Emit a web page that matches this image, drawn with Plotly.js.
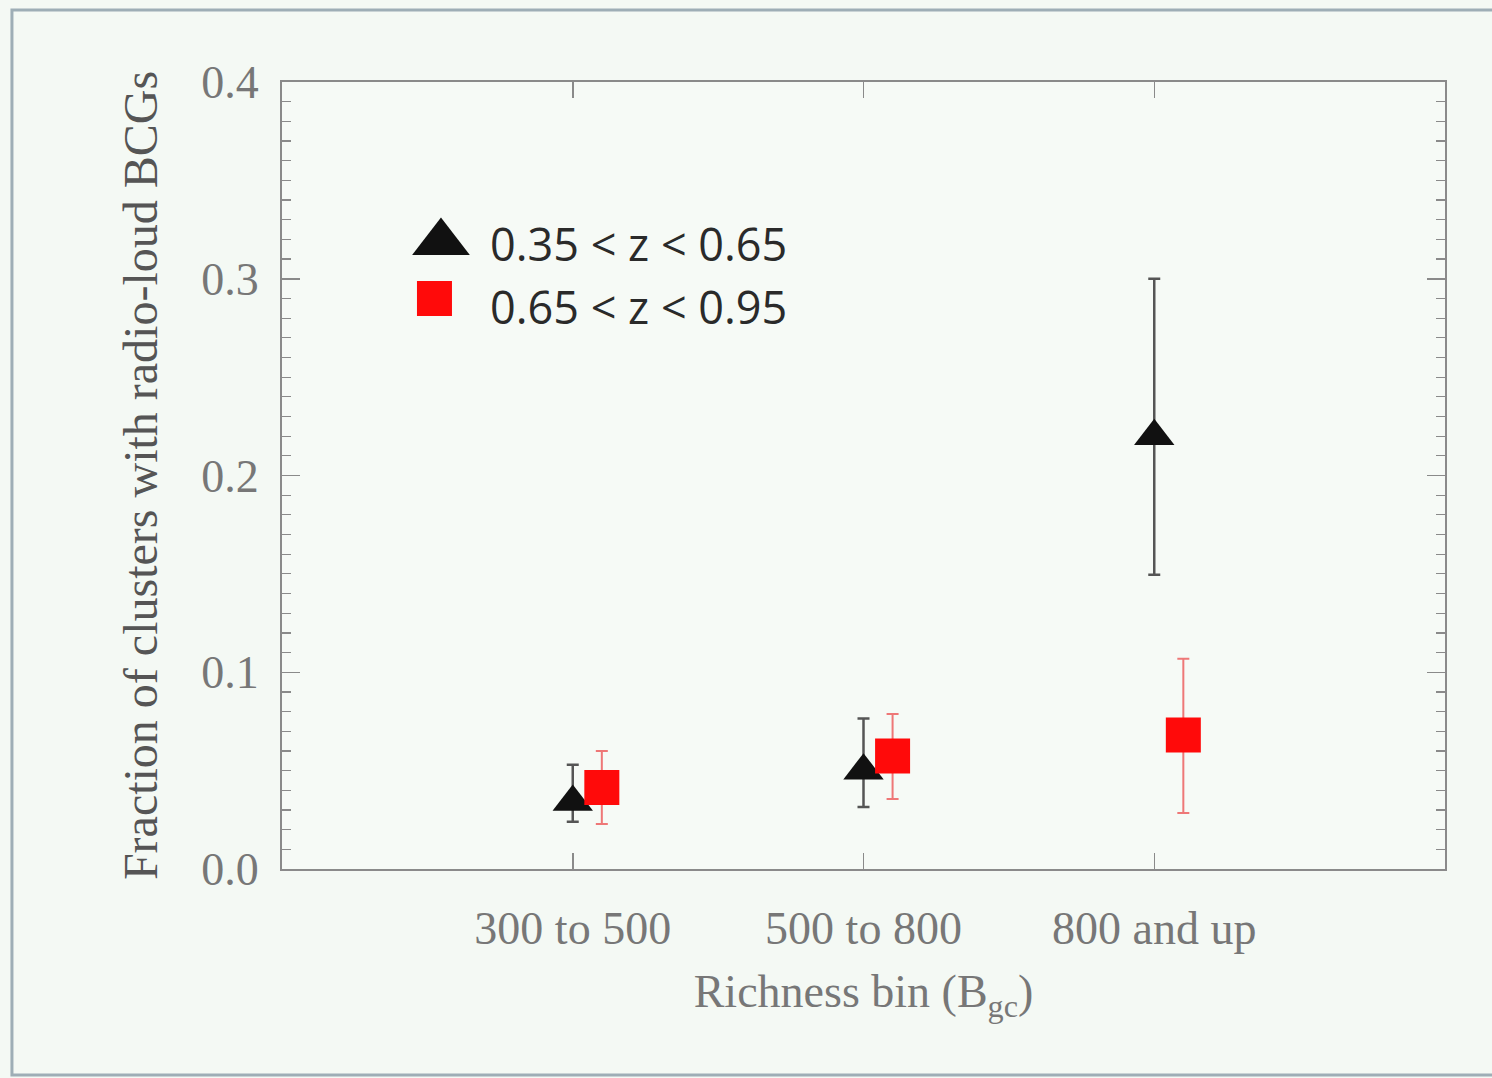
<!DOCTYPE html>
<html>
<head>
<meta charset="utf-8">
<script src="https://cdn.plot.ly/plotly-3.0.1.min.js"></script>
<style>
  html, body { margin: 0; padding: 0; background: #f4f9f4; }
  #chart { width: 1492px; height: 1078px; }
</style>
</head>
<body>
<div id="chart"></div>
<script>
// ---- data ----
const categories = ['300 to 500', '500 to 800', '800 and up'];
const seriesNames = ['0.35 < z < 0.65', '0.65 < z < 0.95'];

const lowZValue = [0.034, 0.050, 0.220];
const lowZUpper = [0.053, 0.0765, 0.300];
const lowZLower = [0.024, 0.0315, 0.1495];

const highZValue = [0.0414, 0.0574, 0.0681];
const highZUpper = [0.060, 0.0788, 0.1068];
const highZLower = [0.0229, 0.0356, 0.0285];

const yTickVals = [0.0, 0.1, 0.2, 0.3, 0.4];

// ---- build traces ----
const catPos = categories.map((c, i) => i + 1);
const redShift = 0.1;

function plus(v, up) { return v.map((d, i) => up[i] - d); }
function minus(v, lo) { return v.map((d, i) => d - lo[i]); }

const serif = 'Liberation Serif, Times New Roman, serif';
const sans = 'Open Sans, Noto Sans, sans-serif';

const traceLow = {
  type: 'scatter', mode: 'markers', name: seriesNames[0], showlegend: false,
  x: catPos, y: lowZValue,
  marker: { symbol: 'triangle-up', size: 35, color: '#111111' },
  error_y: { type: 'data', symmetric: false,
    array: plus(lowZValue, lowZUpper), arrayminus: minus(lowZValue, lowZLower),
    color: '#555555', thickness: 2.5, width: 6 }
};
const traceHigh = {
  type: 'scatter', mode: 'markers', name: seriesNames[1], showlegend: false,
  x: catPos.map(p => p + redShift), y: highZValue,
  marker: { symbol: 'square', size: 35, color: '#ff0a0a' },
  error_y: { type: 'data', symmetric: false,
    array: plus(highZValue, highZUpper), arrayminus: minus(highZValue, highZLower),
    color: '#ee7777', thickness: 2, width: 6 }
};

// legend keys drawn on an overlay axis in plot-fraction units
const legendKeyLow = {
  type: 'scatter', mode: 'markers', showlegend: false, hoverinfo: 'skip',
  xaxis: 'x2', yaxis: 'y2', x: [0.1367], y: [0.796],
  marker: { symbol: 'triangle-up', size: 50, color: '#111111' }
};
const legendKeyHigh = {
  type: 'scatter', mode: 'markers', showlegend: false, hoverinfo: 'skip',
  xaxis: 'x2', yaxis: 'y2', x: [0.1311], y: [0.725],
  marker: { symbol: 'square', size: 35, color: '#ff0a0a' }
};

const axisGray = '#8a8a8a';
const layout = {
  width: 1492, height: 1078,
  paper_bgcolor: '#f4f9f4', plot_bgcolor: '#f6faf6',
  margin: { l: 282, r: 47, t: 82, b: 209 },
  showlegend: false,
  xaxis: {
    range: [0, 4], tickvals: catPos, ticktext: categories,
    ticks: 'inside', ticklen: 16, tickwidth: 1.5, tickcolor: axisGray,
    showline: true, linecolor: axisGray, linewidth: 2, mirror: 'ticks',
    showgrid: false, zeroline: false,
    ticklabelstandoff: 18,
    tickfont: { family: serif, size: 46, color: '#777777' },
    title: { text: 'Richness bin (B<sub>gc</sub>)', standoff: 22,
      font: { family: serif, size: 46, color: '#777777' } }
  },
  yaxis: {
    range: [0, 0.4], tickvals: yTickVals, tickformat: '.1f',
    ticks: 'inside', ticklen: 18, tickwidth: 1.5, tickcolor: axisGray,
    minor: { dtick: 0.01, ticks: 'inside', ticklen: 9, tickcolor: axisGray, tickwidth: 1.2 },
    showline: true, linecolor: axisGray, linewidth: 2, mirror: 'ticks',
    showgrid: false, zeroline: false,
    ticklabelstandoff: 12,
    tickfont: { family: serif, size: 46, color: '#777777' },
    title: { text: 'Fraction of clusters with radio-loud BCGs', standoff: 28,
      font: { family: serif, size: 48, color: '#555555' } }
  },
  xaxis2: { overlaying: 'x', range: [0, 1], visible: false, fixedrange: true },
  yaxis2: { overlaying: 'y', range: [0, 1], visible: false, fixedrange: true },
  annotations: [
    { xref: 'paper', yref: 'paper', x: 0.177, y: 0.795, xanchor: 'left', yanchor: 'middle',
      text: seriesNames[0], showarrow: false, font: { family: sans, size: 45, color: '#2a2a2a' } },
    { xref: 'paper', yref: 'paper', x: 0.177, y: 0.715, xanchor: 'left', yanchor: 'middle',
      text: seriesNames[1], showarrow: false, font: { family: sans, size: 45, color: '#2a2a2a' } }
  ],
  shapes: [
    { type: 'rect', xref: 'paper', yref: 'paper', layer: 'below',
      x0: -0.2322, x1: 1.06, y0: -0.2618, y1: 1.0915,
      line: { color: '#9eaeb6', width: 3 }, fillcolor: 'rgba(0,0,0,0)' }
  ]
};

Plotly.newPlot('chart', [traceLow, traceHigh, legendKeyLow, legendKeyHigh], layout,
  { displayModeBar: false, staticPlot: true });
</script>
</body>
</html>
